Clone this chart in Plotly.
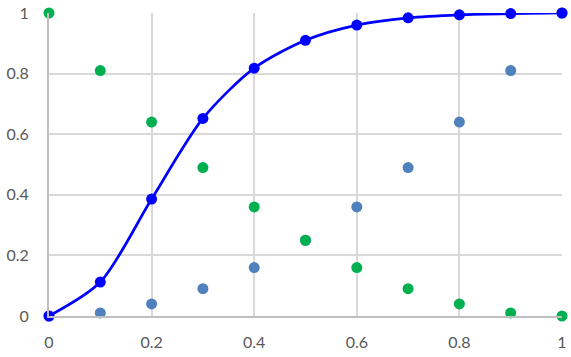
import plotly.graph_objects as go

x_vals = [0, 0.1, 0.2, 0.3, 0.4, 0.5, 0.6, 0.7, 0.8, 0.9, 1.0]
curve_vals = [0, 0.112, 0.386, 0.652, 0.818, 0.91, 0.96, 0.984, 0.994, 0.998, 1.0]
rising_vals = [0, 0.01, 0.04, 0.09, 0.16, 0.25, 0.36, 0.49, 0.64, 0.81, 1.0]
falling_vals = [1.0, 0.81, 0.64, 0.49, 0.36, 0.25, 0.16, 0.09, 0.04, 0.01, 0]
tick_vals = [0, 0.2, 0.4, 0.6, 0.8, 1]
tick_text = ["0", "0.2", "0.4", "0.6", "0.8", "1"]

fig = go.Figure()
fig.add_trace(go.Scatter(x=x_vals, y=rising_vals, mode="markers",
                         marker=dict(color="#4F81BD", size=11), cliponaxis=False))
fig.add_trace(go.Scatter(x=x_vals, y=falling_vals, mode="markers",
                         marker=dict(color="#00B050", size=11), cliponaxis=False))
fig.add_trace(go.Scatter(x=x_vals, y=curve_vals, mode="lines+markers",
                         line=dict(color="#0000FF", width=2.7, shape="spline", smoothing=0.8),
                         marker=dict(color="#0000FF", size=11), cliponaxis=False))

axis_common = dict(showgrid=True, gridcolor="#D9D9D9", gridwidth=2,
                   zeroline=False, showline=True, linecolor="#BFBFBF", linewidth=2,
                   ticks="", automargin=False,
                   tickfont=dict(family="Lato, Open Sans, sans-serif", size=16, color="#595959"),
                   tickvals=tick_vals, ticktext=tick_text, range=[0, 1], fixedrange=True)

fig.update_layout(
    width=571, height=357,
    margin=dict(l=49, r=9, t=13, b=41),
    paper_bgcolor="white", plot_bgcolor="white",
    showlegend=False,
    xaxis=dict(**axis_common, ticklabelstandoff=11),
    yaxis=dict(**axis_common, ticklabelstandoff=15),
)
fig.write_html("out.html")
